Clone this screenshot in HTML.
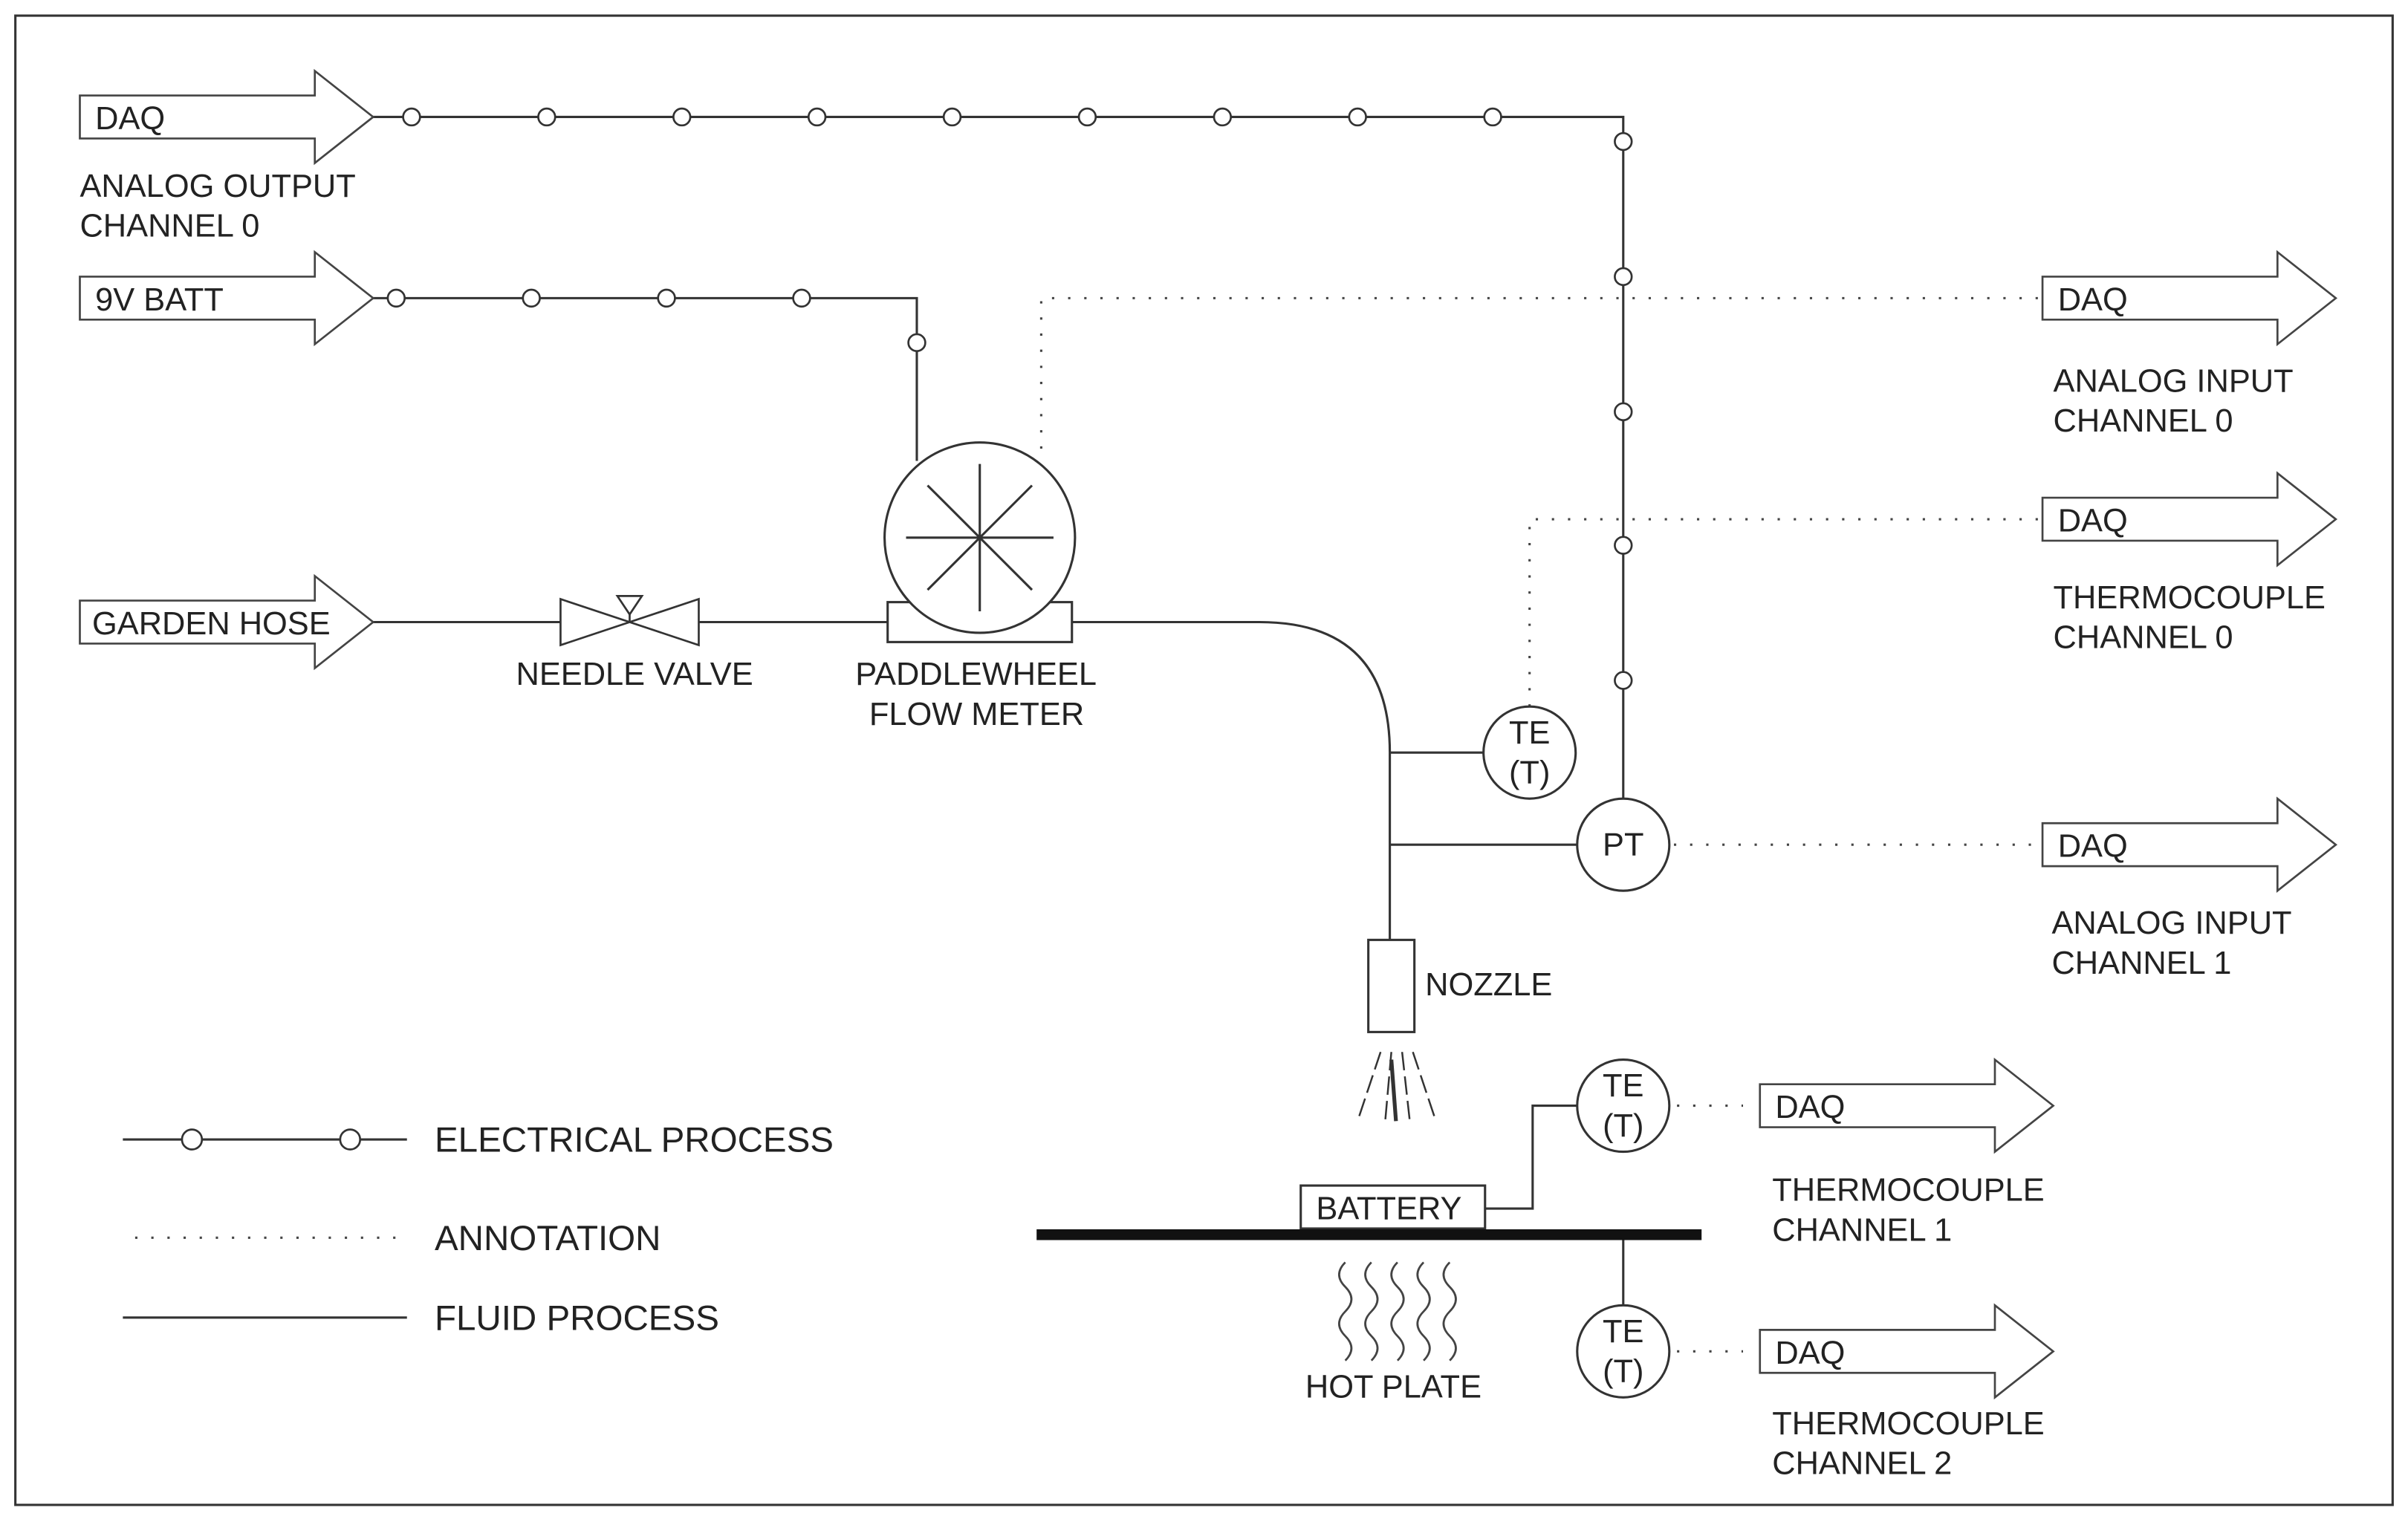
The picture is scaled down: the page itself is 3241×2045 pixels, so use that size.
<!DOCTYPE html>
<html><head><meta charset="utf-8">
<style>
html,body{margin:0;padding:0;background:#fff;}
svg{display:block;}
text{font-family:"Liberation Sans",sans-serif;font-size:21px;fill:#222;}
</style></head>
<body>
<svg width="3241" height="2045" viewBox="0 0 1568 989" xmlns="http://www.w3.org/2000/svg">
<rect x="0" y="0" width="1568" height="989" fill="#fff"/>
<rect x="10" y="10" width="1548" height="970" fill="none" stroke="#333" stroke-width="1.5"/>
<defs>
<g id="arrowL"><polygon points="0,-14 153,-14 153,-30 191,0 153,30 153,14 0,14" fill="#fff" stroke="#444" stroke-width="1.3"/></g>
</defs>
<g stroke="#333" stroke-width="1.5" fill="none">
<polyline points="243,76 1057,76 1057,520"/>
<polyline points="243,194 597,194 597,300"/>
<line x1="243" y1="405" x2="365" y2="405"/>
<line x1="455" y1="405" x2="578" y2="405"/>
<path d="M698,405 L820,405 Q905,405 905,490 L905,612"/>
<line x1="905" y1="490" x2="966" y2="490"/>
<line x1="905" y1="550" x2="1027" y2="550"/>
<polyline points="967,787 998,787 998,720 1027,720"/>
<line x1="1057" y1="804" x2="1057" y2="850"/>
<line x1="80" y1="742" x2="265" y2="742"/>
<line x1="80" y1="858" x2="265" y2="858"/>
</g>
<g stroke="#444" stroke-width="1.5" fill="none" stroke-dasharray="1.5,9">
<polyline points="678,292 678,194 1330,194"/>
<polyline points="996,460 996,338 1330,338"/>
<line x1="1090" y1="550" x2="1330" y2="550"/>
<line x1="1092" y1="720" x2="1135" y2="720"/>
<line x1="1092" y1="880" x2="1135" y2="880"/>
<line x1="88" y1="806" x2="265" y2="806"/>
</g>
<g fill="#fff" stroke="#333" stroke-width="1.3">
<circle cx="268" cy="76" r="5.5"/><circle cx="356" cy="76" r="5.5"/><circle cx="444" cy="76" r="5.5"/>
<circle cx="532" cy="76" r="5.5"/><circle cx="620" cy="76" r="5.5"/><circle cx="708" cy="76" r="5.5"/>
<circle cx="796" cy="76" r="5.5"/><circle cx="884" cy="76" r="5.5"/><circle cx="972" cy="76" r="5.5"/>
<circle cx="1057" cy="92" r="5.5"/><circle cx="1057" cy="180" r="5.5"/><circle cx="1057" cy="268" r="5.5"/>
<circle cx="1057" cy="355" r="5.5"/><circle cx="1057" cy="443" r="5.5"/>
<circle cx="258" cy="194" r="5.5"/><circle cx="346" cy="194" r="5.5"/><circle cx="434" cy="194" r="5.5"/>
<circle cx="522" cy="194" r="5.5"/><circle cx="597" cy="223" r="5.5"/>
<circle cx="125" cy="742" r="6.5"/><circle cx="228" cy="742" r="6.5"/>
</g>
<use href="#arrowL" transform="translate(52,76)"/>
<use href="#arrowL" transform="translate(52,194)"/>
<use href="#arrowL" transform="translate(52,405)"/>
<use href="#arrowL" transform="translate(1330,194)"/>
<use href="#arrowL" transform="translate(1330,338)"/>
<use href="#arrowL" transform="translate(1330,550)"/>
<use href="#arrowL" transform="translate(1146,720)"/>
<use href="#arrowL" transform="translate(1146,880)"/>
<g stroke="#333" stroke-width="1.5" fill="#fff">
<rect x="578" y="392" width="120" height="26"/>
<circle cx="638" cy="350" r="62"/>
<line x1="638" y1="302" x2="638" y2="398"/>
<line x1="590" y1="350" x2="686" y2="350"/>
<line x1="604" y1="316" x2="672" y2="384"/>
<line x1="672" y1="316" x2="604" y2="384"/>
</g>
<g stroke="#333" stroke-width="1.3" fill="#fff">
<polygon points="365,390 365,420 410,405"/>
<polygon points="455,390 455,420 410,405"/>
<line x1="410" y1="405" x2="410" y2="388"/>
<polygon points="402,388 418,388 410,400"/>
</g>
<g stroke="#333" stroke-width="1.5" fill="#fff">
<circle cx="996" cy="490" r="30"/>
<circle cx="1057" cy="550" r="30"/>
<circle cx="1057" cy="720" r="30"/>
<circle cx="1057" cy="880" r="30"/>
<rect x="891" y="612" width="30" height="60"/>
<rect x="847" y="772" width="120" height="28"/>
</g>
<line x1="675" y1="804" x2="1108" y2="804" stroke="#111" stroke-width="7"/>
<g stroke="#333" stroke-width="1.2" fill="none" stroke-dasharray="12,4">
<line x1="899" y1="685" x2="884" y2="730"/>
<line x1="906" y1="685" x2="902" y2="730"/>
<line x1="913" y1="685" x2="918" y2="730"/>
<line x1="920" y1="685" x2="935" y2="730"/>
</g>
<line x1="906" y1="690" x2="909" y2="730" stroke="#333" stroke-width="2.5"/>
<g stroke="#444" stroke-width="1.3" fill="none">
<path d="M876,822 q-8,8 0,16 q8,8 0,16 q-8,8 0,16 q8,8 0,16"/>
<path d="M893,822 q-8,8 0,16 q8,8 0,16 q-8,8 0,16 q8,8 0,16"/>
<path d="M910,822 q-8,8 0,16 q8,8 0,16 q-8,8 0,16 q8,8 0,16"/>
<path d="M927,822 q-8,8 0,16 q8,8 0,16 q-8,8 0,16 q8,8 0,16"/>
<path d="M944,822 q-8,8 0,16 q8,8 0,16 q-8,8 0,16 q8,8 0,16"/>
</g>
<text x="62" y="84">DAQ</text>
<text x="62" y="202">9V BATT</text>
<text x="60" y="413">GARDEN HOSE</text>
<text x="52" y="128">ANALOG OUTPUT</text>
<text x="52" y="154">CHANNEL 0</text>
<text x="1340" y="202">DAQ</text>
<text x="1340" y="346">DAQ</text>
<text x="1340" y="558">DAQ</text>
<text x="1156" y="728">DAQ</text>
<text x="1156" y="888">DAQ</text>
<text x="1337" y="255">ANALOG INPUT</text>
<text x="1337" y="281">CHANNEL 0</text>
<text x="1337" y="396">THERMOCOUPLE</text>
<text x="1337" y="422">CHANNEL 0</text>
<text x="1336" y="608">ANALOG INPUT</text>
<text x="1336" y="634">CHANNEL 1</text>
<text x="1154" y="782">THERMOCOUPLE</text>
<text x="1154" y="808">CHANNEL 1</text>
<text x="1154" y="934">THERMOCOUPLE</text>
<text x="1154" y="960">CHANNEL 2</text>
<text x="336" y="446">NEEDLE VALVE</text>
<text x="557" y="446">PADDLEWHEEL</text>
<text x="566" y="472">FLOW METER</text>
<text x="928" y="648">NOZZLE</text>
<text x="857" y="794">BATTERY</text>
<text x="850" y="910">HOT PLATE</text>
<g text-anchor="middle">
<text x="996" y="484">TE</text><text x="996" y="510">(T)</text>
<text x="1057" y="557">PT</text>
<text x="1057" y="714">TE</text><text x="1057" y="740">(T)</text>
<text x="1057" y="874">TE</text><text x="1057" y="900">(T)</text>
</g>
<text x="283" y="750" style="font-size:23px">ELECTRICAL PROCESS</text>
<text x="283" y="814" style="font-size:23px">ANNOTATION</text>
<text x="283" y="866" style="font-size:23px">FLUID PROCESS</text>
</svg>
</body></html>
